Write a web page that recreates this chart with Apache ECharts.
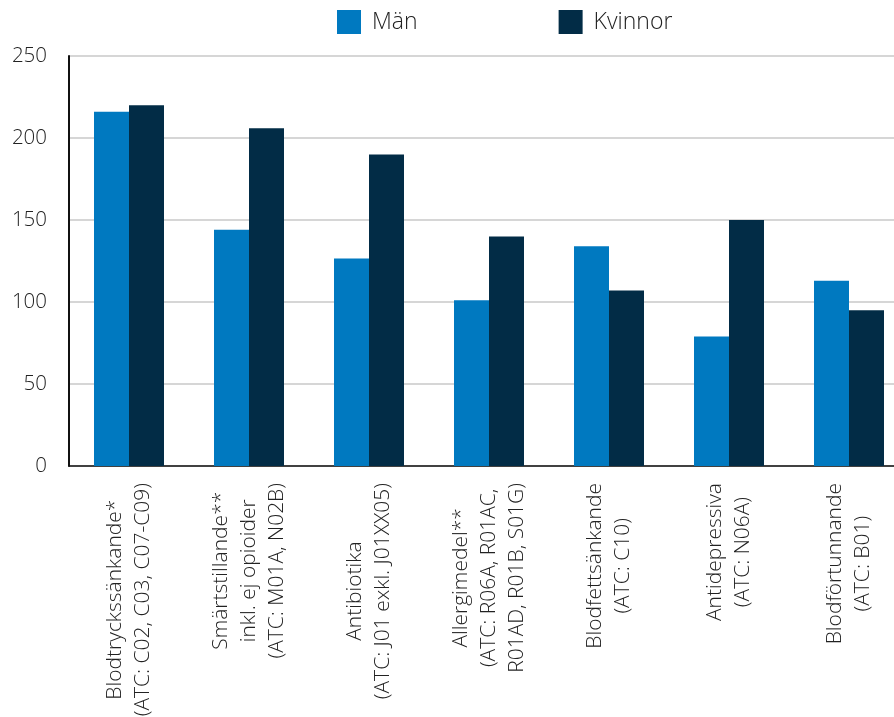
<!DOCTYPE html>
<html><head><meta charset="utf-8">
<script src="https://cdn.jsdelivr.net/npm/echarts@6/dist/echarts.min.js"></script>
<style>html,body{margin:0;padding:0;background:#fff}#c{width:894px;height:717px}</style>
</head><body><div id="c"></div>
<script>
const categories = [
  ["Blodtryckssänkande*", "(ATC: C02, C03, C07-C09)"],
  ["Smärtstillande**", "inkl. ej opioider", "(ATC: M01A, N02B)"],
  ["Antibiotika", "(ATC: J01 exkl. J01XX05)"],
  ["Allergimedel**", "(ATC: R06A, R01AC,", "R01AD, R01B, S01G)"],
  ["Blodfettsänkande", "(ATC: C10)"],
  ["Antidepressiva", "(ATC: N06A)"],
  ["Blodförtunnande", "(ATC: B01)"]
];
const man = [216, 144, 126.5, 101, 134, 79, 113];
const kvinnor = [220, 206, 190, 140, 107, 150, 95];
const yTicks = [0, 50, 100, 150, 200, 250];

const FONT = '"Open Sans", "Noto Sans", sans-serif';
const chart = echarts.init(document.getElementById('c'), null, {renderer: 'canvas'});
chart.setOption({
  animation: false,
  textStyle: {fontFamily: FONT},
  legend: {
    top: 5, left: 332, itemWidth: 24, itemHeight: 24, itemGap: 141,
    icon: 'rect',
    textStyle: {fontSize: 23, color: '#222', fontFamily: FONT, fontWeight: 300, padding: [0,0,0,6]},
    data: ['Män', 'Kvinnor']
  },
  grid: {left: 69, width: 840, top: 56, height: 410, containLabel: false, outerBoundsMode: 'none'},
  xAxis: {
    type: 'category',
    data: categories.map(l => l.map(s => '{a|' + s + '}').join('\n')),
    axisLine: {show: true, lineStyle: {color: '#111', width: 1.5}},
    axisTick: {show: false},
    axisLabel: {
      rotate: 90, interval: 0, margin: 17, color: '#222',
      fontFamily: FONT, fontSize: 21, fontWeight: 300, lineHeight: 28,
      rich: {a: {align: 'center', fontSize: 21, lineHeight: 28, fontFamily: FONT, fontWeight: 300, color: '#222'}}
    }
  },
  yAxis: {
    type: 'value', min: yTicks[0], max: yTicks[yTicks.length-1], interval: 50,
    axisLine: {show: true, lineStyle: {color: '#111', width: 2}},
    axisTick: {show: false},
    splitLine: {show: true, lineStyle: {color: '#c8c8c8', width: 1.5}},
    axisLabel: {margin: 22, fontSize: 20.5, color: '#222', fontFamily: FONT, fontWeight: 300}
  },
  series: [
    {name: 'Män', type: 'bar', data: man, barWidth: 35, barGap: '0%',
     itemStyle: {color: '#0079C0'}},
    {name: 'Kvinnor', type: 'bar', data: kvinnor, barWidth: 35, barGap: '0%',
     itemStyle: {color: '#022C46'}}
  ]
});
</script></body></html>
